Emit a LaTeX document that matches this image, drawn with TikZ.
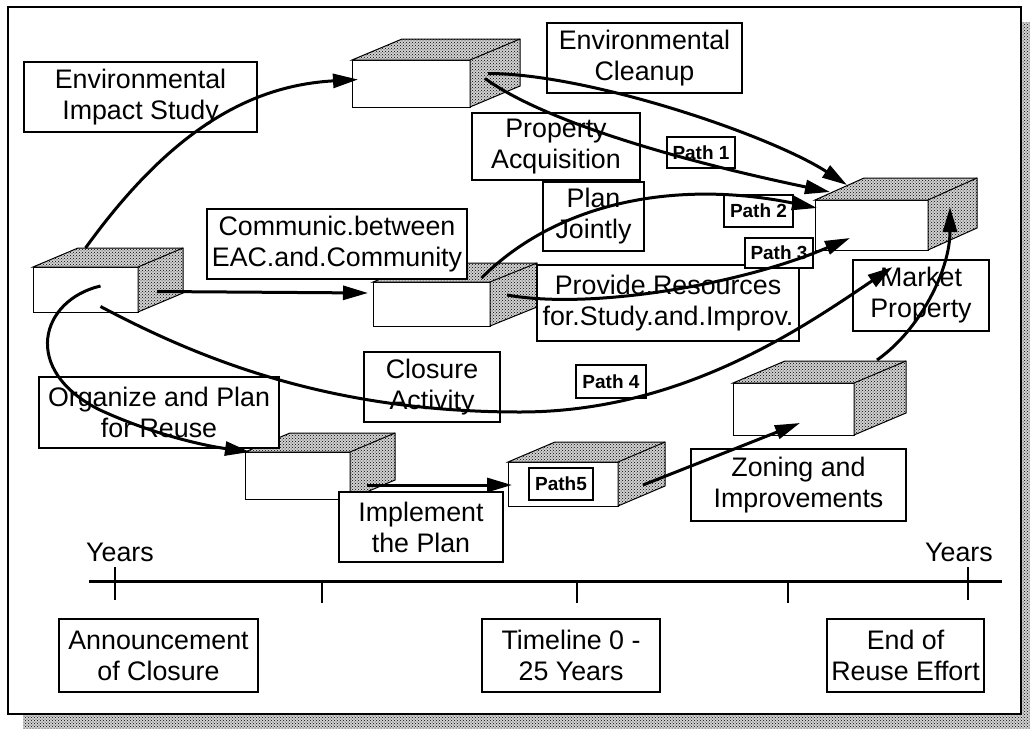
\documentclass[tikz,border=0pt]{standalone}
\usepackage{fontspec}
\setmainfont{Liberation Sans}
\usetikzlibrary{arrows.meta, patterns}

\begin{document}
\begin{tikzpicture}[x=1pt, y=-1pt]

	% Stile
	\tikzset{
		every node/.style={font=\fontsize{26.8pt}{31pt}\selectfont},
		textbox/.style={draw, line width=2pt, fill=white, inner sep=0pt, align=center},
		pathlabel/.style={draw, line width=2pt, fill=white, inner sep=0pt,
			font=\fontsize{19pt}{22pt}\selectfont\bfseries},
		front/.style={draw, line width=1pt, fill=white, inner sep=0pt, outer sep=0pt},
		dotface/.style={draw, line width=1pt, preaction={fill=black!18}, pattern=crosshatch dots, pattern color=black},
		flow/.style={line width=3pt, -{Triangle[length=25pt, width=14pt]}}
	}
	
	\useasboundingbox (0,0) rectangle (1030,728);
	
	% Rahmen mit Schatten
	\fill[black!18] (23,22) rectangle (1036,735);
	\fill[pattern=crosshatch dots, pattern color=black] (23,22) rectangle (1036,735);
	\filldraw[fill=white, line width=2pt] (8,7) rectangle (1021,714);
	
	% Quader (Vorderseite als Knoten)
	\foreach \n/\x/\y/\w/\h/\dx/\dy in {bA/85.5/289.5/105/45/45/19, bB/411/83.5/118/47/50/21,
		bC/431.5/304/117/44/47/19, bD/871.5/225/113/50/49/22, bE/297.5/475.5/105/47/45/19,
		bF/563/484/110/44/47/20, bG/793.5/409/121/52/52/22} {
		\node[front, minimum width=\w pt, minimum height=\h pt] (\n) at (\x,\y) {};
		\filldraw[dotface] (\n.north west) -- ++(\dx,-\dy) -- ++(\w,0) -- ++(0,\h)
			-- (\n.south east) -- (\n.north east) -- cycle;
		\draw[line width=1pt] (\n.north east) -- ++(\dx,-\dy);
	}
	
	% Beschriftungen
	\node[textbox, minimum width=233pt, minimum height=70pt] (impact) at (140.5,97) {Environmental\\Impact Study};
	\node[textbox, minimum width=195pt, minimum height=70pt] (cleanup) at (644.5,58) {Environmental\\Cleanup};
	\node[textbox, minimum width=168pt, minimum height=67pt] (acquis) at (556,146.5) {Property\\Acquisition};
	\node[textbox, minimum width=101pt, minimum height=69pt] (jointly) at (593.5,216.5) {Plan\\Jointly};
	\node[textbox, minimum width=260pt, minimum height=70pt] (communic) at (337,244) {Communic.between\\EAC.and.Community};
	\node[textbox, minimum width=262pt, minimum height=76pt] (resources) at (668,303) {Provide.Resources\\for.Study.and.Improv.};
	\node[textbox, minimum width=136pt, minimum height=71pt] (market) at (921,295.5) {Market\\Property};
	\node[textbox, minimum width=136pt, minimum height=70pt] (closure) at (432,387) {Closure\\Activity};
	\node[textbox, minimum width=240pt, minimum height=71pt] (organize) at (159,412.5) {Organize and Plan\\for Reuse};
	\node[textbox, minimum width=164pt, minimum height=70pt] (implement) at (421,527) {Implement\\the Plan};
	\node[textbox, minimum width=215pt, minimum height=72pt] (zoning) at (798.5,485) {Zoning and\\Improvements};
	
	% Pfade
	\node[pathlabel, minimum width=68pt, minimum height=31pt] (path1) at (701,152.5) {Path 1};
	\node[pathlabel, minimum width=69pt, minimum height=32pt] (path2) at (758.5,211) {Path 2};
	\node[pathlabel, minimum width=68pt, minimum height=30pt] (path3) at (779,253) {Path 3};
	\node[pathlabel, minimum width=70pt, minimum height=33pt] (path4) at (611,381.5) {Path 4};
	\node[pathlabel, minimum width=64pt, minimum height=32pt] (path5) at (561,484) {Path5};
	
	% Pfeile
	\draw[flow] ([shift={(0,-19)}]bA.north) .. controls +(85,-118) and +(-108,6) .. ([shift={(6,-4)}]bB.west);
	\draw[flow] ([shift={(18,-10)}]bB.east) .. controls +(100,0) and +(-77,-50) .. ([shift={(32,-15)}]bD.north west);
	\draw[flow] ([shift={(15,-5)}]bB.east) .. controls +(65,47) and +(-130,-27) .. ([shift={(15,-8)}]bD.north west);
	\draw[flow] ([shift={(50,-4)}]bC.north) .. controls +(78,-78) and +(-137,-28) .. ([shift={(2,8)}]bD.north west);
	\draw[flow] ([shift={(19,2)}]bA.east) -- ([shift={(-5,-11)}]bC.west);
	\draw[flow] ([shift={(17,-9)}]bC.east) .. controls +(83,15) and +(-110,47) .. ([shift={(35,-12)}]bD.south west);
	\draw[flow] ([shift={(15,17)}]bA.center) .. controls +(100,53) and +(-190,0) .. (520,412)
		.. controls +(160,0) and +(-93,63) .. ([shift={(21,17)}]bD.south);
	\draw[flow] ([shift={(15,-3.5)}]bA.center) .. controls +(-60,14) and +(-80,-40) .. (100,410)
		.. controls +(50,23) and +(-50,-7) .. ([shift={(5,0)}]bE.north west);
	\draw[flow] ([shift={(17,9.5)}]bE.east) -- ([shift={(4,1)}]bF.west);
	\draw[flow] ([shift={(25,1)}]bF.east) -- ([shift={(6.5,14)}]bG.center);
	\draw[flow] ([shift={(23,-23)}]bG.north east) .. controls +(43,-30) and +(0,63) .. ([shift={(22,-18)}]bD.east);
	
	% Zeitachse
	\coordinate (tlA) at (89,581);
	\coordinate (tlB) at (1002,581);
	\draw[line width=3pt] (tlA) -- (tlB);
	\foreach \x in {322,577,788}
		\draw[line width=1.5pt] (\x,581) -- (\x,603);
	\foreach \x in {115,968}
		\draw[line width=1.5pt] (\x,567) -- (\x,600);
	\node (yearsL) at (120,552) {Years};
	\node (yearsR) at (959,552) {Years};
	
	\node[textbox, minimum width=199pt, minimum height=73pt] (announce) at (158.5,655.5) {Announcement\\of Closure};
	\node[textbox, minimum width=178pt, minimum height=73pt] (timeline) at (571,655.5) {Timeline 0 -\\25 Years};
	\node[textbox, minimum width=157pt, minimum height=73pt] (reuseend) at (905.5,655.5) {End of\\Reuse Effort};
	
\end{tikzpicture}
\end{document}
